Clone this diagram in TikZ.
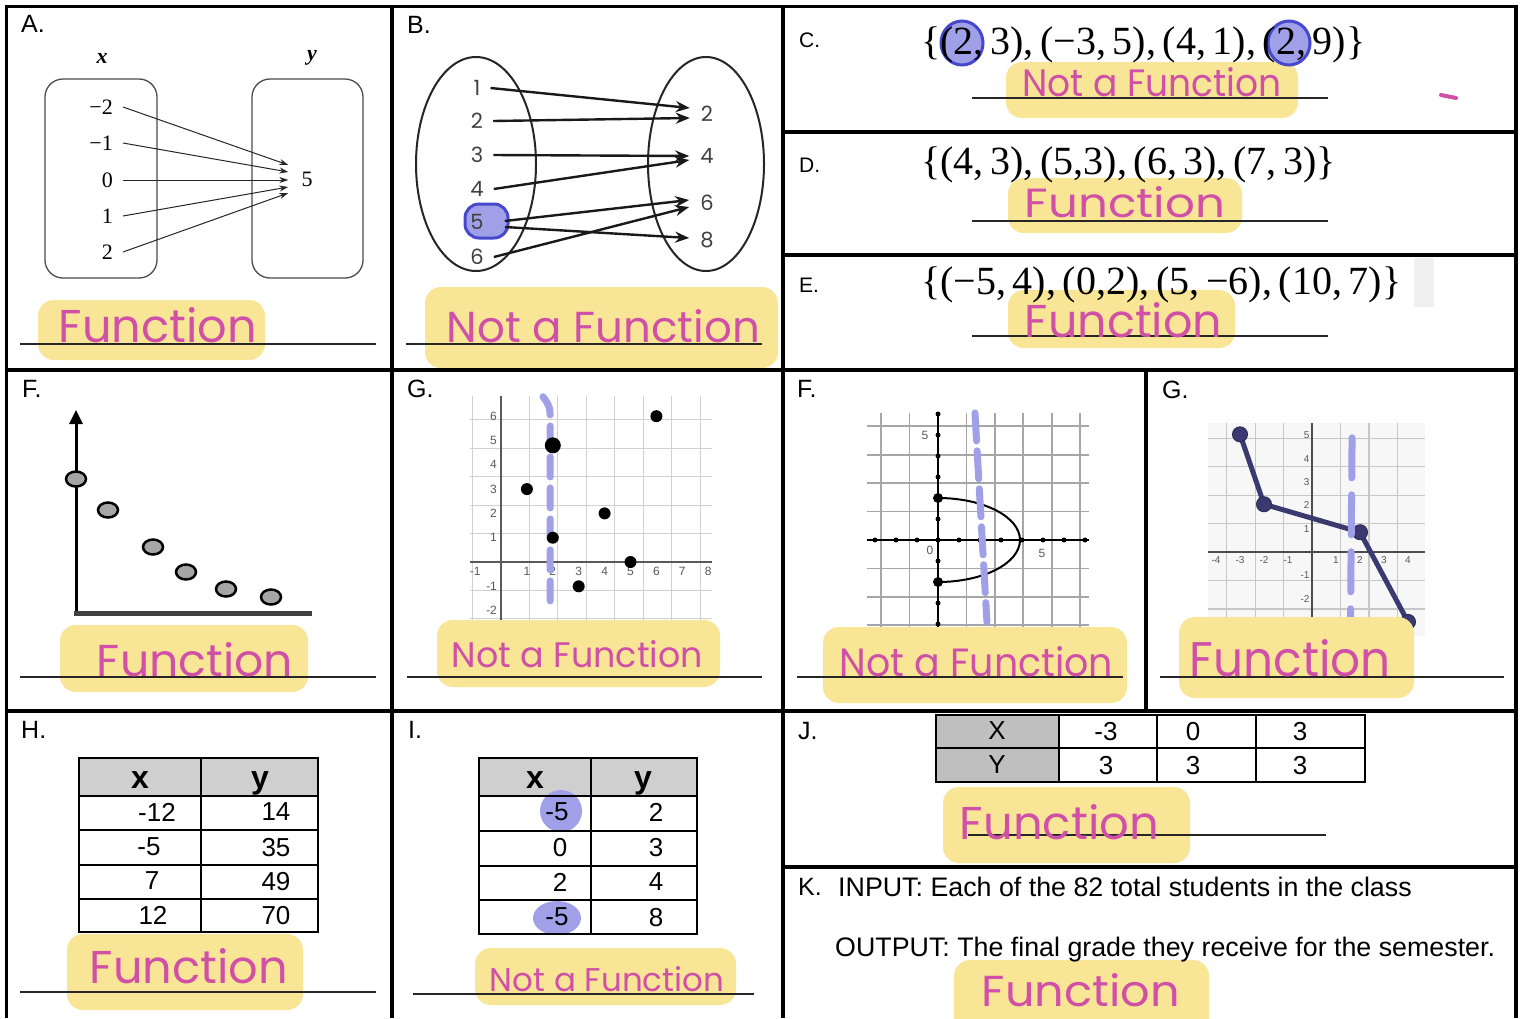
\documentclass[tikz,border=0pt]{standalone}
\usepackage{fontspec}
\setmainfont{Liberation Serif}
\setsansfont{Liberation Sans}
\newfontfamily\handfont{Poppins}
\usepackage{graphicx}
\usepackage{tikz}
\usetikzlibrary{arrows.meta,positioning}
\definecolor{hlyellow}{RGB}{249,229,150}
\definecolor{inkpink}{RGB}{208,80,168}
\definecolor{hlblue}{RGB}{160,160,232}
\definecolor{penblue}{RGB}{70,72,205}
\definecolor{navy}{RGB}{58,58,112}
\definecolor{hdrgray}{RGB}{208,207,208}
\definecolor{hdrgrayj}{RGB}{191,191,191}
\newcommand{\fsz}[1]{\fontsize{#1}{#1}\selectfont}
\newcommand{\handans}[3]{\resizebox{#1}{#2}{\handfont #3}}

\begin{document}
\begin{tikzpicture}[
    x=1pt, y=-1pt,
    border/.style={line width=3.5pt, black},
    panellabel/.style={anchor=west, inner sep=0pt, text depth=0pt, font=\sffamily\fsz{25}},
    setlabel/.style={anchor=west, inner sep=0pt, text depth=0pt, font=\sffamily\fsz{21}},
    highlight/.style={fill=hlyellow, rounded corners=16pt},
    answerline/.style={line width=1.4pt, black!85},
    answer/.style={inner sep=0pt, text=inkpink},
    setbox/.style={draw=black!70, line width=1.3pt, rounded corners=18pt},
    setoval/.style={draw=black!85, line width=2pt},
    mapnum/.style={inner sep=1pt, text depth=0pt, font=\fsz{22}},
    maparrow/.style={-{Stealth[length=9pt,width=6pt]}, line width=1pt, black!85},
    bnum/.style={inner sep=1pt, text depth=0pt, font=\handfont\fsz{21}, text=black!75},
    barrow/.style={-{Stealth[length=14pt,width=11pt]}, line width=2.4pt, black!90},
    setlist/.style={anchor=west, inner sep=0pt, font=\fsz{40}},
    bluemark/.style={fill=hlblue, draw=penblue, line width=3pt},
    blueblob/.style={fill=hlblue},
    bluedash/.style={hlblue, line width=7pt, line cap=round},
    dotmark/.style={fill=black!35, draw=black, line width=2.5pt},
    navyline/.style={navy, line width=5pt, line join=round},
    ticklab/.style={inner sep=0pt, font=\sffamily\fsz{12}, text=black!65},
    cell/.style={inner sep=0pt, text depth=0pt, font=\sffamily\fsz{26}},
    hdr/.style={inner sep=0pt, text depth=0pt, font=\sffamily\bfseries\fsz{32}},
    tabline/.style={line width=2.2pt},
    ktext/.style={anchor=west, inner sep=0pt, text depth=0pt, font=\sffamily\fsz{26.8}}
]
\fill[white] (0,0) rectangle (1522,1018);
\useasboundingbox (0,0) rectangle (1522,1018);

\node[panellabel] (lblA) at (21,24) {A.};
\node[font=\bfseries\itshape\fsz{22}] (setx) at (102,58) {x};
\node[font=\bfseries\itshape\fsz{22}] (sety) at (312,58) {y};
\draw[setbox] (45,79) rectangle (157,278);
\draw[setbox] (252,79) rectangle (363,278);
\foreach \nm/\lab/\yy in {am2/−2/107, am1/−1/143, az/0/180, ap1/1/216, ap2/2/252}
  \node[mapnum, anchor=east] (\nm) at (114,\yy) {\lab};
\node[mapnum] (afive) at (307,179) {5};
\foreach \nm/\dy in {am2/14, am1/7, az/-1, ap1/-8, ap2/-14}
  \draw[maparrow] ([xshift=9pt]\nm.east) -- ([xshift=-12pt,yshift=\dy pt]afive.west);

\node[panellabel] (lblB) at (407,25) {B.};
\draw[setoval] (476,164) ellipse [x radius=60pt, y radius=107pt];
\draw[setoval] (706,164) ellipse [x radius=58pt, y radius=107pt];
\draw[bluemark, rounded corners=14pt] (465,204) rectangle (508,238);
\foreach \nm/\lab/\yy in {bl1/1/88, bl2/2/121, bl3/3/155, bl4/4/189, bl5/5/222, bl6/6/257}
  \node[bnum] (\nm) at (477,\yy) {\lab};
\foreach \nm/\lab/\yy in {br2/2/114, br4/4/156, br6/6/203, br8/8/240}
  \node[bnum] (\nm) at (707,\yy) {\lab};
\foreach \a/\b/\sx/\sy/\ey in {bl1/br2/9/0/6, bl2/br2/9/0/-4, bl3/br4/9/0/0, bl4/br4/9/0/-4, bl5/br6/20/1/3, bl5/br8/20/-5/2, bl6/br6/9/0/-4}
  \draw[barrow] ([xshift=\sx pt,yshift=\sy pt]\a.east) -- ([xshift=-10pt,yshift=\ey pt]\b.west);

\fill[highlight] (1006,62) rectangle (1298,118);
\fill[highlight] (1008,178) rectangle (1242,233);
\fill[highlight] (1008,290) rectangle (1235,348);

\node[setlabel] (lblC) at (799,40) {C.};
\draw[bluemark] (962,43) ellipse [x radius=21pt, y radius=22pt];
\draw[bluemark] (1289,43) ellipse [x radius=21pt, y radius=22pt];
\node[setlist] (setC) at (921,45) {\{(2,\,3),\,(−3,\,5),\,(4,\,1),\,(2,\,9)\}};
\draw[inkpink, line width=4pt, line cap=round] (1441,95) -- (1456,98);

\node[setlabel] (lblD) at (799,165) {D.};
\node[setlist] (setD) at (921,165) {\{(4,\,3),\,(5,3),\,(6,\,3),\,(7,\,3)\}};

\fill[black!6] (1414,258) rectangle (1434,307);
\node[setlabel] (lblE) at (799,285) {E.};
\node[setlist] (setE) at (921,285) {\{(−5,\,4),\,(0,2),\,(5,\,−6),\,(10,\,7)\}};

\node[panellabel] (lblF) at (22,389) {F.};
\draw[line width=3pt, -{Triangle[length=14pt,width=13pt]}] (76,614) -- (76,410);
\draw[line width=5pt, black!75] (74,613) -- (312,613);
\foreach \px/\py in {76/479, 108/510, 153/547, 186/572, 226/589, 271/597}
  \draw[dotmark] (\px,\py) ellipse [x radius=10pt, y radius=7.5pt];

\node[panellabel] (lblG) at (407,389) {G.};
\begin{scope}[shift={(501pt,-562pt)}, x=25.9pt, y=24.3pt]
  \draw[black!18, line width=1pt] (-1.2,-2.6) grid (8.15,6.85);
  \draw[black!65, line width=1.6pt] (-1.2,0) -- (8.15,0);
  \draw[black!65, line width=1.6pt] (0,-2.6) -- (0,6.85);
  \foreach \t in {-2,-1,1,2,3,4,5,6}
    \node[ticklab, anchor=east] (gy\t) at (-0.15,\t) {\t};
  \foreach \t in {-1,1,2,...,8}
    \node[ticklab] (gx\t) at (\t,-0.4) {\t};
  \draw[bluedash, dash pattern=on 20pt off 11pt] (1.62,6.8) .. controls (1.9,6.4) .. (1.9,5.6) -- (1.9,-2.05);
  \foreach \px/\py in {6/6, 1/3, 4/2, 2/1, 5/0, 3/-1}
    \fill (\px,\py) circle [radius=6pt];
  \fill (2,4.8) circle [radius=8pt];
\end{scope}

\node[panellabel] (lblFr) at (797,389) {F.};
\begin{scope}[shift={(938pt,-540pt)}, x=21pt, y=21pt]
  \draw[black!35, line width=1.8pt] (-3.4,-4.8) grid (7.2,6.05);
  \draw[black, line width=2.5pt] (-3.4,0) -- (7.2,0);
  \draw[black, line width=2.5pt] (0,-4.8) -- (0,6.05);
  \foreach \t in {-3,...,7} \fill (\t,0) circle [radius=2.5pt];
  \foreach \t in {-4,...,6} \fill (0,\t) circle [radius=2.5pt];
  \node[ticklab] (fy5) at (-0.62,5) {5};
  \node[ticklab] (fx5) at (4.95,-0.62) {5};
  \node[ticklab] (fo) at (-0.38,-0.48) {0};
  \draw[line width=2pt] (0,2) arc [start angle=90, end angle=-90, x radius=82pt, y radius=42pt];
  \fill (0,2) circle [radius=5pt];
  \fill (0,-2) circle [radius=5pt];
  \draw[bluedash, dash pattern=on 28pt off 10pt] (1.76,6.05) -- (2.33,-3.9);
\end{scope}

\node[panellabel] (lblGr) at (1162,390) {G.};
\begin{scope}[shift={(1312pt,-552pt)}, x=24pt, y=23.3pt]
  \fill[black!3] (-4.35,-3.6) rectangle (4.7,5.55);
  \draw[black!22, line width=1.2pt] (-4.35,-3.6) grid (4.7,5.55);
  \draw[black!70, line width=1.8pt] (-4.35,0) -- (4.7,0);
  \draw[black!70, line width=1.8pt] (0,-3.6) -- (0,5.55);
  \foreach \t in {-3,-2,-1,1,2,3,4,5}
    \node[ticklab, font=\sffamily\fsz{10}, anchor=east] (ry\t) at (-0.1,\t) {\t};
  \foreach \t in {-4,-3,-2,-1,1,2,3,4}
    \node[ticklab, font=\sffamily\fsz{10}] (rx\t) at (\t,-0.35) {\t};
  \draw[navyline] (-3,5.05) -- (-2,2.05) -- (2,0.85) -- (4,-3.0);
  \foreach \px/\py in {-3/5.05, -2/2.05, 2/0.85, 4/-3.0}
    \filldraw[fill=navy, draw=navy!80!black, line width=1pt] (\px,\py) circle [radius=7.5pt];
  \draw[bluedash, dash pattern=on 40pt off 17pt] (1.67,4.9) -- (1.6,-3.35);
\end{scope}

\node[panellabel] (lblH) at (21,730) {H.};
\fill[hdrgray] (79,758) rectangle (318,796);
\draw[tabline] (79,758) rectangle (318,932);
\foreach \yy in {796,830,865,899} \draw[tabline] (79,\yy) -- (318,\yy);
\draw[tabline] (201,758) -- (201,932);
\node[hdr] (hx) at (140,780) {x};
\node[hdr] (hy) at (260,780) {y};
\foreach \na/\nb/\xx/\xv/\yv/\yy in {hxa/hya/157/-12/14/812, hxb/hyb/149/-5/35/847, hxc/hyc/152/7/49/881, hxd/hyd/153/12/70/915} {
  \node[cell] (\na) at (\xx,\yy) {\xv};
  \node[cell] (\nb) at (276,\yy) {\yv};
}

\node[panellabel] (lblI) at (408,730) {I.};
\fill[hdrgray] (479,758) rectangle (697,796);
\fill[blueblob] (561,811) ellipse [x radius=21pt, y radius=21pt];
\fill[blueblob] (557,918) ellipse [x radius=24pt, y radius=17pt];
\draw[tabline] (479,758) rectangle (697,934);
\foreach \yy in {796,831,866,900} \draw[tabline] (479,\yy) -- (697,\yy);
\draw[tabline] (591,758) -- (591,934);
\node[hdr] (ix) at (535,780) {x};
\node[hdr] (iy) at (643,780) {y};
\foreach \na/\nb/\xx/\xv/\yv/\yy in {ixa/iya/557/-5/2/812, ixb/iyb/560/0/3/847, ixc/iyc/560/2/4/882, ixd/iyd/557/-5/8/917} {
  \node[cell] (\na) at (\xx,\yy) {\xv};
  \node[cell] (\nb) at (656,\yy) {\yv};
}

\node[panellabel] (lblJ) at (798,731) {J.};
\fill[hdrgrayj] (936,715) rectangle (1059,782);
\draw[tabline] (936,715) rectangle (1365,782);
\draw[tabline] (936,748) -- (1365,748);
\foreach \xx in {1059,1157,1256} \draw[tabline] (\xx,715) -- (\xx,782);
\foreach \na/\nb/\xx/\xv/\yv in {jx/jy/997/X/Y, jxa/jya/1106/-3/3, jxb/jyb/1193/0/3, jxc/jyc/1300/3/3} {
  \node[cell] (\na) at (\xx,731) {\xv};
  \node[cell] (\nb) at (\xx,765) {\yv};
}

\fill[highlight] (954,960) rectangle (1209,1040);
\node[panellabel] (lblK) at (798,887) {K.};
\node[ktext] (kin) at (838,887) {INPUT: Each of the 82 total students in the class};
\node[ktext] (kout) at (835,947) {OUTPUT: The final grade they receive for the semester.};

\fill[highlight] (38,300) rectangle (265,360);
\fill[highlight] (425,287) rectangle (778,368);
\fill[highlight] (60,625) rectangle (308,692);
\fill[highlight] (437,620) rectangle (720,687);
\fill[highlight] (823,627) rectangle (1127,703);
\fill[highlight] (1179,617) rectangle (1414,698);
\fill[highlight] (67,934) rectangle (303,1010);
\fill[highlight] (475,948) rectangle (736,1005);
\fill[highlight] (943,787) rectangle (1190,863);

\draw[answerline] (20,344) -- (376,344);
\draw[answerline] (406,344) -- (762,344);
\draw[answerline] (972,98) -- (1328,98);
\draw[answerline] (972,221) -- (1328,221);
\draw[answerline] (972,336) -- (1328,336);
\draw[answerline] (20,677) -- (376,677);
\draw[answerline] (407,677) -- (762,677);
\draw[answerline] (797,677) -- (1123,677);
\draw[answerline] (1160,677) -- (1504,677);
\draw[answerline] (20,992) -- (376,992);
\draw[answerline] (413,994) -- (754,994);
\draw[answerline] (968,835) -- (1326,835);

\node[answer] (ansA) at (158,325.5) {\handans{198pt}{35pt}{Function}};
\node[answer] (ansB) at (603.5,326.5) {\handans{313pt}{33pt}{Not a Function}};
\node[answer] (ansC) at (1152,82.5) {\handans{259pt}{29pt}{Not a Function}};
\node[answer] (ansD) at (1125,202.5) {\handans{200pt}{31pt}{Function}};
\node[answer] (ansE) at (1123.5,320.5) {\handans{197pt}{35pt}{Function}};
\node[answer] (ansF) at (195,660) {\handans{196pt}{34pt}{Function}};
\node[answer] (ansG) at (577.5,654) {\handans{251pt}{27pt}{Not a Function}};
\node[answer] (ansFr) at (976.5,662) {\handans{273pt}{30pt}{Not a Function}};
\node[answer] (ansGr) at (1290.5,658.5) {\handans{201pt}{37pt}{Function}};
\node[answer] (ansH) at (189,966.5) {\handans{198pt}{35pt}{Function}};
\node[answer] (ansI) at (607,979.5) {\handans{234pt}{25pt}{Not a Function}};
\node[answer] (ansJ) at (1059.5,822.5) {\handans{199pt}{35pt}{Function}};
\node[answer] (ansK) at (1081,990) {\handans{198pt}{33pt}{Function}};

\draw[border] (6.5,1018) -- (6.5,6.5) -- (1516,6.5) -- (1516,1018);
\draw[border] (6.5,370) -- (1516,370);
\draw[border] (6.5,711) -- (1516,711);
\draw[border] (783,132) -- (1516,132);
\draw[border] (783,255) -- (1516,255);
\draw[border] (783,867) -- (1516,867);
\draw[border] (392,6.5) -- (392,1018);
\draw[border] (783,6.5) -- (783,1018);
\draw[border] (1146,370) -- (1146,711);
\end{tikzpicture}
\end{document}
